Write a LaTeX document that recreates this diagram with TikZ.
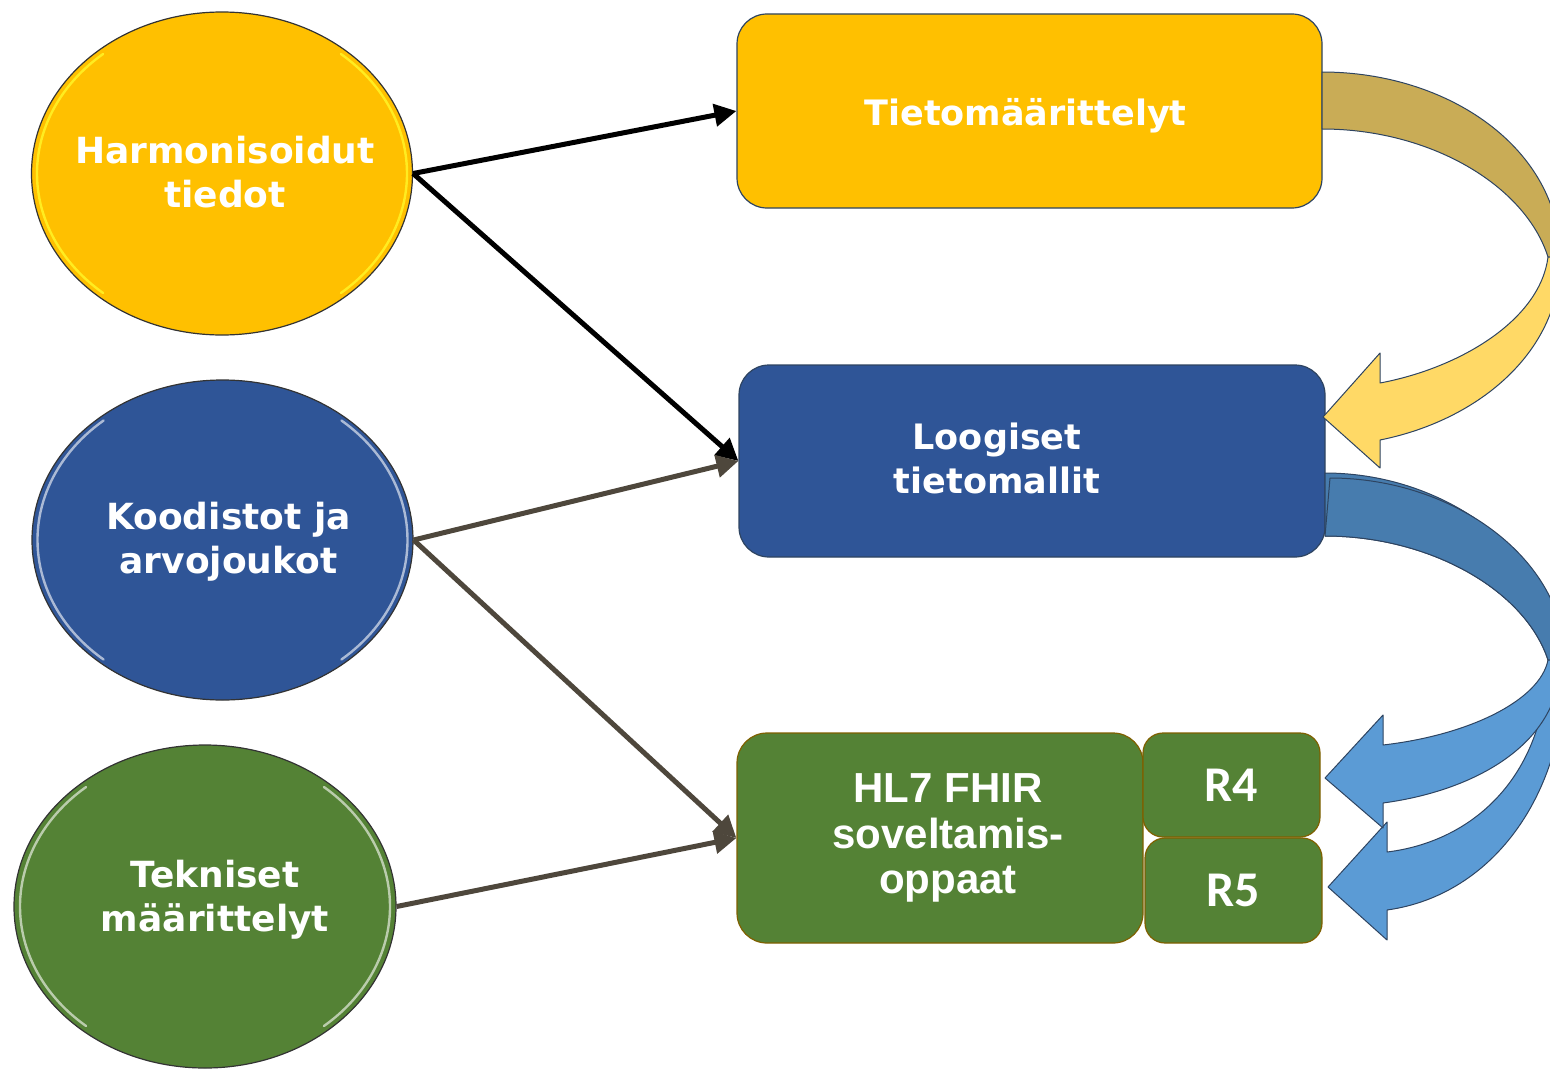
\documentclass[tikz,border=0pt]{standalone}
\usepackage{fontspec}
\usepackage{tikz}
\usetikzlibrary{shapes.geometric,arrows.meta,positioning}
\newfontfamily\verd{DejaVu Sans}
\newfontfamily\arialb{Liberation Sans}
\newfontfamily\calib{Carlito}
\definecolor{gold}{HTML}{FFC000}
\definecolor{navy}{HTML}{2F5597}
\definecolor{leaf}{HTML}{548235}
\definecolor{arrgray}{HTML}{4E473C}
\definecolor{ochre}{HTML}{C9AC56}
\definecolor{lightgold}{HTML}{FFD966}
\definecolor{steel}{HTML}{477CAE}
\definecolor{sky}{HTML}{5B9BD5}
\definecolor{edge}{HTML}{2E4461}
\definecolor{rust}{HTML}{7F6000}
\tikzset{
  ell/.style={ellipse, draw=black!80, line width=0.6pt, minimum width=190.5pt,
    minimum height=161.5pt, inner sep=0pt},
  elltxt/.style={text=white, align=center, font=\verd\bfseries\fontsize{18}{22}\selectfont},
  block/.style={rectangle, rounded corners=15pt, draw=edge, line width=0.6pt},
  blocktxt/.style={text=white, align=center, font=\verd\bfseries\fontsize{17.5}{22}\selectfont},
  ver/.style={rectangle, rounded corners=10pt, draw=rust, line width=0.6pt, fill=leaf,
    minimum width=88.5pt, minimum height=52pt, text=white,
    font=\calib\bfseries\fontsize{25}{26}\selectfont},
  link/.style={line width=2.5pt, -{Triangle[length=11pt,width=11pt]}},
  band/.style={draw=edge, line width=0.5pt, line join=round}
}

\begin{document}
\begin{tikzpicture}[x=0.5pt, y=-0.5pt]
\useasboundingbox (0,0) rectangle (1550,1070);
\clip (0,0) rectangle (1550,1070);

% boxes on the right
\node[block, fill=gold, minimum width=292.5pt, minimum height=97pt] (tieto) at (1029.5,111) {};
\node[block, fill=navy, minimum width=293pt, minimum height=96pt] (loog) at (1032,461) {};
\node[block, fill=leaf, draw=rust, minimum width=203pt, minimum height=105pt] (fhir) at (940,838) {};
\node[ver] (rfour) at (1231.5,785) {R4};
\node[ver, minimum height=52.5pt] (rfive) at (1233.5,890.5) {R5};

\node[blocktxt] (tietotxt) at ([xshift=-2pt, yshift=-2.5pt]tieto.center) {Tietomäärittelyt};
\node[blocktxt] (loogtxt) at ([xshift=-17.5pt, yshift=1.5pt]loog.center) {Loogiset\\tietomallit};
\node[text=white, align=center, font=\arialb\bfseries\fontsize{21}{22.75}\selectfont]
  (fhirtxt) at ([xshift=4pt]fhir.center) {HL7 FHIR\\soveltamis-\\oppaat};

% ellipses on the left
\node[ell, fill=gold] (harm) at (222,173.5) {};
\node[ell, fill=navy, minimum height=160pt] (kood) at (222.5,540) {};
\node[ell, fill=leaf, minimum width=191pt] (tekn) at (205,906.5) {};

\foreach \n/\c in {harm/yellow!85!white, kood/navy!30!white, tekn/leaf!30!white}{
  \draw[\c, line width=1.2pt, line cap=round, opacity=.85] (\n.center) ++(130:92.5pt and 78pt)
    arc[start angle=130, end angle=230, x radius=92.5pt, y radius=78pt];
  \draw[\c, line width=1.2pt, line cap=round, opacity=.85] (\n.center) ++(-50:92.5pt and 78pt)
    arc[start angle=-50, end angle=50, x radius=92.5pt, y radius=78pt];
}

\node[elltxt] (harmtxt) at ([xshift=1.5pt, yshift=0.5pt]harm.center) {Harmonisoidut\\tiedot};
\node[elltxt] (koodtxt) at ([xshift=3pt, yshift=-1pt]kood.center) {Koodistot ja\\arvojoukot};
\node[elltxt] (tekntxt) at ([xshift=5pt, yshift=3.5pt]tekn.center) {Tekniset\\määrittelyt};

% connectors
\draw[link, black] (harm.east) -- (tieto.west);
\draw[link, black] (harm.east) -- (loog.west);
\draw[link, arrgray] (kood.east) -- (loog.west);
\draw[link, arrgray] (kood.east) -- (fhir.west);
\draw[link, arrgray] (tekn.east) -- (fhir.west);

% curved arrows
\filldraw[band, fill=ochre] (1322,72) .. controls (1450,72) and (1560,150) .. (1560,257)
  -- (1548,257) .. controls (1525,185) and (1430,129) .. (1322,129) -- cycle;
\filldraw[band, fill=lightgold] (1548,257) .. controls (1540,320) and (1460,368) .. (1380,383)
  -- (1380,353) -- (1323,417) -- (1380,468) -- (1380,440)
  .. controls (1480,420) and (1562,350) .. (1560,257) -- cycle;

\filldraw[band, fill=sky] (1548,660) .. controls (1545,780) and (1470,842) .. (1387,852)
  -- (1387,822) -- (1328,887) -- (1387,940) -- (1387,910)
  .. controls (1495,895) and (1568,790) .. (1565,660) -- cycle;
\filldraw[band, fill=steel] (1325,473) .. controls (1450,473) and (1560,560) .. (1560,660)
  -- (1548,660) .. controls (1525,590) and (1430,536) .. (1325,536) -- cycle;
\filldraw[band, fill=steel] (1330,478) .. controls (1455,478) and (1565,560) .. (1565,660)
  -- (1548,660) .. controls (1525,590) and (1430,536) .. (1325,536) -- cycle;
\filldraw[band, fill=sky] (1548,660) .. controls (1540,700) and (1470,735) .. (1383,745)
  -- (1383,715) -- (1325,778) -- (1383,828) -- (1383,803)
  .. controls (1480,790) and (1562,740) .. (1560,660) -- cycle;

\end{tikzpicture}
\end{document}
